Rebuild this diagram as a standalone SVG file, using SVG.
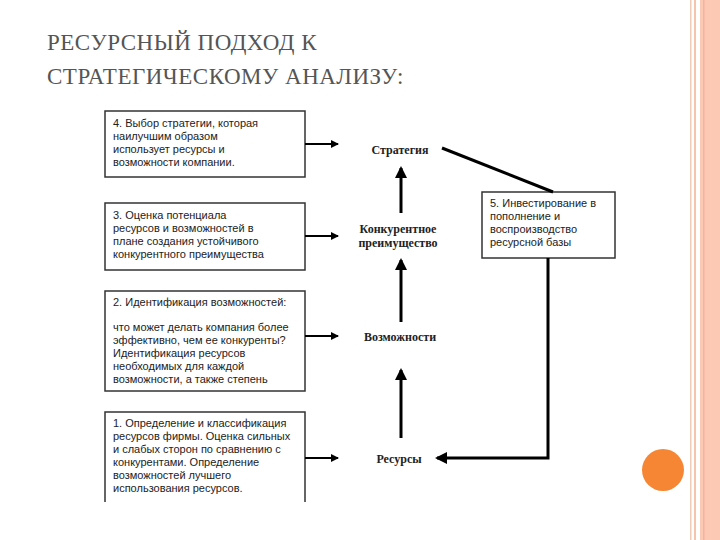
<svg xmlns="http://www.w3.org/2000/svg" width="720" height="540" viewBox="0 0 720 540">
<defs>
<marker id="ah" markerWidth="8" markerHeight="8" refX="7" refY="4" orient="auto" markerUnits="userSpaceOnUse"><path d="M0,0 L8,4 L0,8 z" fill="#000"/></marker>
<marker id="ahb" markerWidth="12" markerHeight="12" refX="10" refY="6" orient="auto" markerUnits="userSpaceOnUse"><path d="M0,0 L12,6 L0,12 z" fill="#000"/></marker>
</defs>
<style>
.box{fill:#fff;stroke:#333;stroke-width:1.5}
.t{font-family:"Liberation Sans",Arial,sans-serif;font-size:11px;fill:#222}
.l{font-family:"Liberation Serif","Times New Roman",serif;font-size:12px;font-weight:bold;fill:#222;text-anchor:middle}
.title{font-family:"Liberation Serif","Times New Roman",serif;font-size:23px;fill:#555;letter-spacing:0.5px}
.c{stroke:#000;fill:none}
</style>
<rect width="720" height="540" fill="#fff"/>
<rect x="690" y="0" width="1.5" height="540" fill="#f0cbb8"/>
<rect x="694" y="0" width="2" height="540" fill="#f5c4ad"/>
<rect x="700" y="0" width="20" height="540" fill="#fcc9b5"/>
<rect x="703" y="0" width="1.5" height="540" fill="#f4b49b"/>
<circle cx="663" cy="470" r="21" fill="#f68634"/>
<text class="title" x="47" y="50">РЕСУРСНЫЙ ПОДХОД К</text>
<text class="title" x="47" y="84">СТРАТЕГИЧЕСКОМУ АНАЛИЗУ:</text>
<g id="box4"><rect class="box" x="105" y="111" width="200" height="66"/>
<text class="t" x="113" y="127">4. Выбор стратегии, которая</text><text class="t" x="113" y="140">наилучшим образом</text><text class="t" x="113" y="153">использует ресурсы и</text><text class="t" x="113" y="166">возможности компании.</text></g>
<g id="box3"><rect class="box" x="105" y="203" width="200" height="67"/>
<text class="t" x="113" y="219">3. Оценка потенциала</text><text class="t" x="113" y="232">ресурсов и возможностей в</text><text class="t" x="113" y="245">плане создания устойчивого</text><text class="t" x="113" y="258">конкурентного преимущества</text></g>
<g id="box2"><rect class="box" x="105" y="291" width="200" height="100"/>
<text class="t" x="113" y="306">2. Идентификация возможностей:</text><text class="t" x="113" y="331">что может делать компания более</text><text class="t" x="113" y="344">эффективно, чем ее конкуренты?</text><text class="t" x="113" y="357">Идентификация ресурсов</text><text class="t" x="113" y="370">необходимых для каждой</text><text class="t" x="113" y="383">возможности, а также степень</text></g>
<g id="box1"><path class="box" d="M105,502 V412 H305 V502"/>
<text class="t" x="113" y="427">1. Определение и классификация</text><text class="t" x="113" y="440">ресурсов фирмы. Оценка сильных</text><text class="t" x="113" y="453">и слабых сторон по сравнению с</text><text class="t" x="113" y="466">конкурентами. Определение</text><text class="t" x="113" y="479">возможностей лучшего</text><text class="t" x="113" y="492">использования ресурсов.</text></g>
<g id="box5"><rect class="box" x="482" y="192" width="133" height="66"/>
<text class="t" x="490" y="207">5. Инвестирование в</text><text class="t" x="490" y="220">пополнение и</text><text class="t" x="490" y="233">воспроизводство</text><text class="t" x="490" y="246">ресурсной базы</text></g>
<g id="labels">
<text class="l" x="400" y="154">Стратегия</text>
<text class="l" x="398" y="233">Конкурентное</text><text class="l" x="398" y="247">преимущество</text>
<text class="l" x="400" y="341">Возможности</text>
<text class="l" x="399" y="463">Ресурсы</text>
</g>
<g id="connectors">
<line class="c" stroke-width="2" x1="305" y1="144" x2="338" y2="144" marker-end="url(#ah)"/>
<line class="c" stroke-width="2" x1="305" y1="236" x2="338" y2="236" marker-end="url(#ah)"/>
<line class="c" stroke-width="2" x1="305" y1="336" x2="338" y2="336" marker-end="url(#ah)"/>
<line class="c" stroke-width="2" x1="305" y1="458" x2="338" y2="458" marker-end="url(#ah)"/>
<line class="c" stroke-width="3" x1="401" y1="213" x2="401" y2="168" marker-end="url(#ahb)"/>
<line class="c" stroke-width="3" x1="401" y1="322" x2="401" y2="260" marker-end="url(#ahb)"/>
<line class="c" stroke-width="3" x1="401" y1="438" x2="401" y2="370" marker-end="url(#ahb)"/>
<line class="c" stroke-width="3" x1="442" y1="148" x2="553" y2="192"/>
<polyline class="c" stroke-width="3" points="548,258 548,458 437,458" marker-end="url(#ahb)"/>
</g>
</svg>
